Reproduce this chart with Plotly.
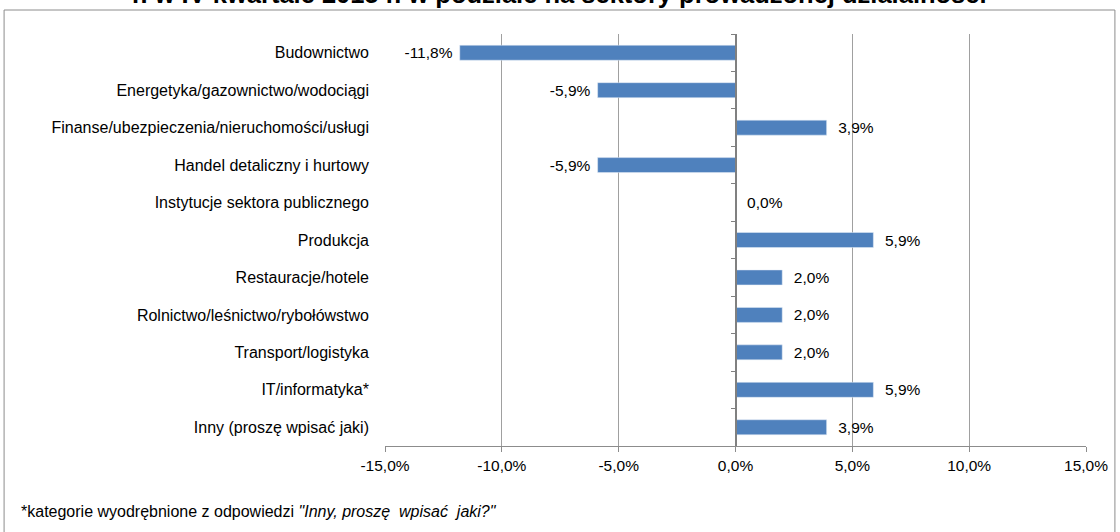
import plotly.graph_objects as go

categories = [
    "Budownictwo",
    "Energetyka/gazownictwo/wodociągi",
    "Finanse/ubezpieczenia/nieruchomości/usługi",
    "Handel detaliczny i hurtowy",
    "Instytucje sektora publicznego",
    "Produkcja",
    "Restauracje/hotele",
    "Rolnictwo/leśnictwo/rybołówstwo",
    "Transport/logistyka",
    "IT/informatyka*",
    "Inny (proszę wpisać jaki)",
]
values = [-11.8, -5.9, 3.9, -5.9, 0.0, 5.9, 2.0, 2.0, 2.0, 5.9, 3.9]
tick_values = [-15, -10, -5, 0, 5, 10, 15]
tick_labels = ["-15,0%", "-10,0%", "-5,0%", "0,0%", "5,0%", "10,0%", "15,0%"]
title_text = "r. w IV kwartale 2015 r. w podziale na sektory prowadzonej działalności"
footnote_plain = "*kategorie wyodrębnione z odpowiedzi "
footnote_italic = "\"Inny, proszę  wpisać  jaki?\""

FONT = "Liberation Sans, Arial, sans-serif"
NB = "\u00a0"

def fmt(v):
    s = f"{v:.1f}".replace(".", ",") + "%"
    return s + NB if v < 0 else NB * 2 + s

labels = [fmt(v) for v in values]

fig = go.Figure()
fig.add_trace(go.Bar(
    x=values, y=categories, orientation="h", width=0.4,
    marker=dict(color="#4F81BD", line=dict(width=0)),
    text=labels, textposition="outside", cliponaxis=False, constraintext="none",
    textfont=dict(family=FONT, size=15.5, color="#000000"),
    hoverinfo="x+y", showlegend=False,
))
# invisible twin trace so the zero-position axis carries the category ticks
fig.add_trace(go.Bar(
    x=values, y=categories, orientation="h", width=0.4, yaxis="y2",
    marker=dict(color="rgba(0,0,0,0)"), hoverinfo="skip", showlegend=False,
))

W, H = 1120, 532
ml, mr, mt, mb = 385, 32, 34, 86
pw = W - ml - mr
ph = H - mt - mb

fig.update_layout(
    width=W, height=H,
    margin=dict(l=ml, r=mr, t=mt, b=mb),
    paper_bgcolor="white", plot_bgcolor="white",
    barmode="overlay",
    font=dict(family=FONT, size=16, color="#000000"),
    xaxis=dict(
        range=[-15, 15], tickvals=tick_values, ticktext=tick_labels,
        showgrid=True, gridcolor="#A0A0A0", gridwidth=1,
        zeroline=False, showline=True, linecolor="#8C8C8C", linewidth=1,
        ticks="outside", ticklen=5, tickcolor="#8C8C8C",
        tickfont=dict(family=FONT, size=15.5, color="#000000"),
    ),
    yaxis=dict(
        autorange="reversed", showgrid=False, zeroline=False, showline=False,
        ticks="", ticklabelstandoff=15,
        tickfont=dict(family=FONT, size=16, color="#000000"),
    ),
    yaxis2=dict(
        overlaying="y", anchor="free", position=0.5, side="left",
        autorange="reversed", showgrid=False, zeroline=False,
        showline=True, linecolor="#808080", linewidth=1.5,
        ticks="outside", ticklen=4, tickcolor="#808080", tickson="boundaries",
        showticklabels=False,
    ),
    shapes=[dict(
        type="rect", xref="paper", yref="paper", layer="below",
        x0=(3 - ml) / pw, x1=(1117 - ml) / pw,
        y0=(H - mb - 560) / ph, y1=1 + (mt - 10) / ph,
        line=dict(color="#8C8C8C", width=1), fillcolor="rgba(0,0,0,0)",
    )],
    annotations=[
        dict(
            text=f"<b>{title_text}</b>",
            xref="paper", yref="paper", x=(560 - ml) / pw, y=1 + (mt - 9.5) / ph,
            xanchor="center", yanchor="bottom", showarrow=False,
            font=dict(family=FONT, size=25.5, color="#000000"),
        ),
        dict(
            text=footnote_plain + "<i>" + footnote_italic + "</i>",
            xref="paper", yref="paper", x=(18 - ml) / pw, y=(H - mb - 512) / ph,
            xanchor="left", yanchor="middle", showarrow=False,
            font=dict(family=FONT, size=16, color="#000000"),
        ),
    ],
)

fig.write_html("out.html", config={"displayModeBar": False},
               post_script="document.body.style.margin='0';")
